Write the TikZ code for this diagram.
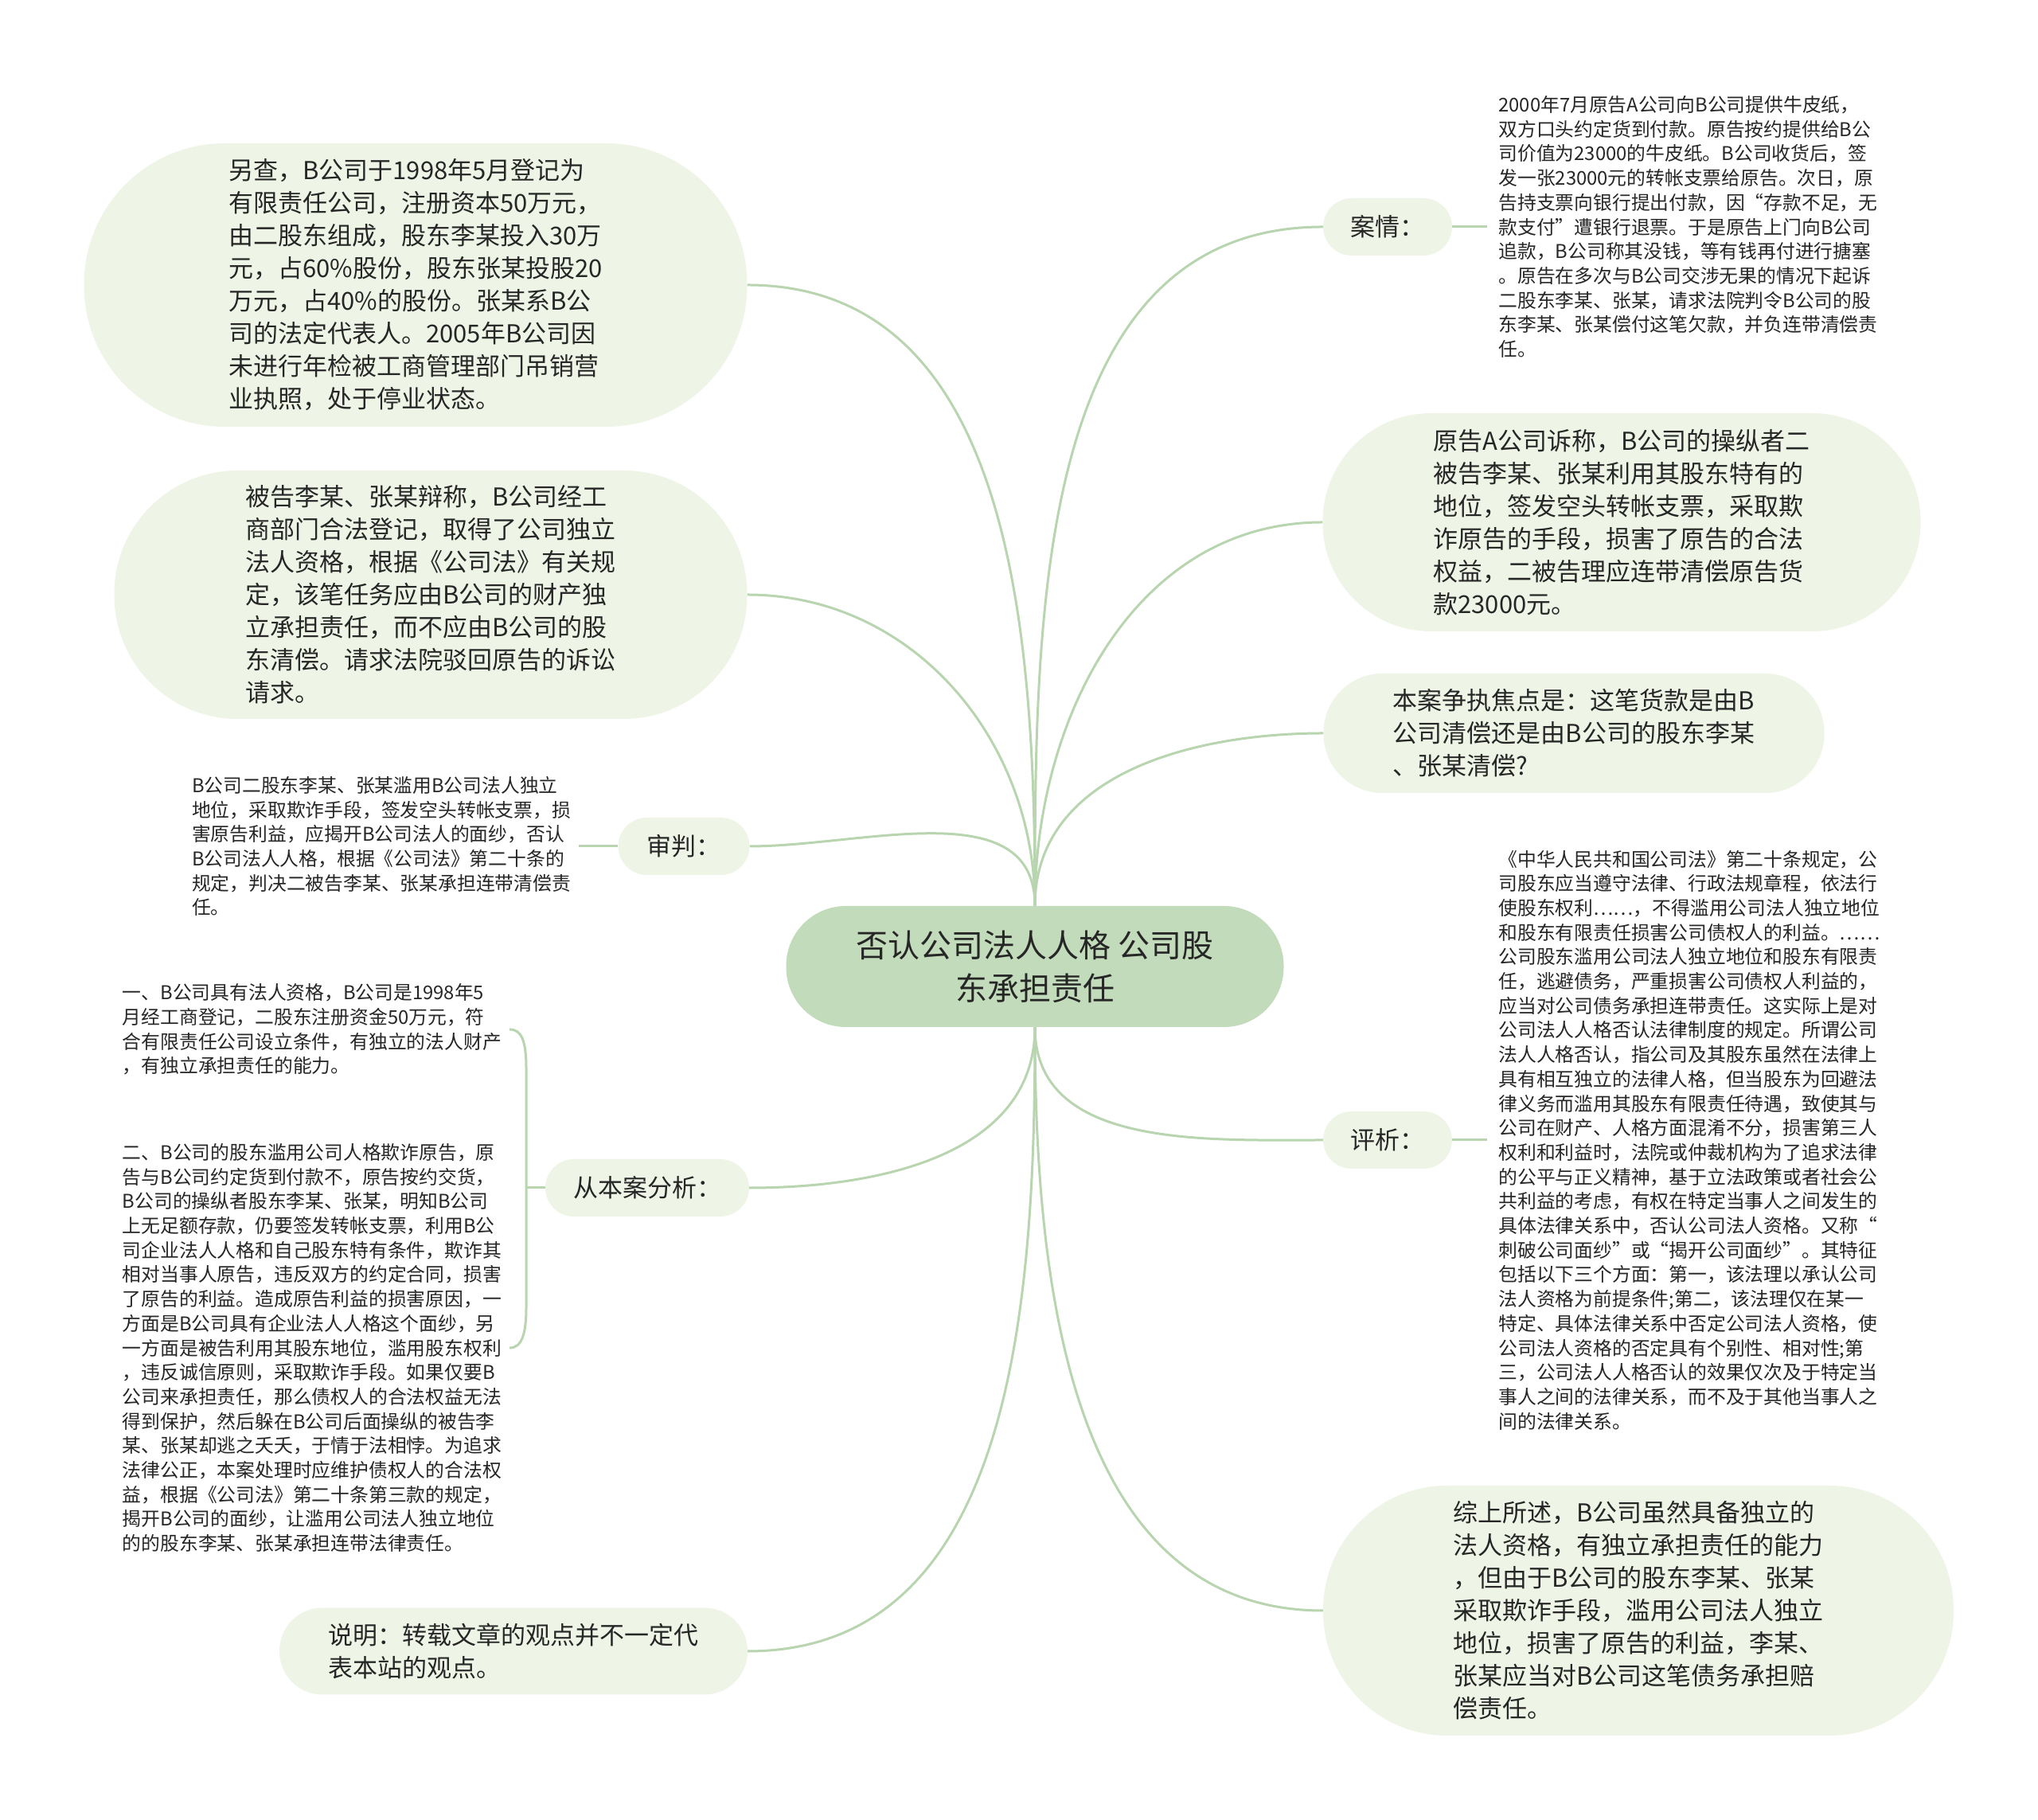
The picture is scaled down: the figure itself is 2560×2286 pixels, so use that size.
\documentclass[tikz,border=0pt]{standalone}
\usepackage{fontspec}
\setmainfont{Noto Sans CJK SC}
\usetikzlibrary{positioning,backgrounds}
\definecolor{RT}{HTML}{C2DBBA}
\definecolor{LF}{HTML}{EFF5E6}
\definecolor{LN}{HTML}{B8D5B0}
\definecolor{TX}{HTML}{262626}
\tikzset{
  link/.style={draw=LN, line width=3pt},
  rootbox/.style={fill=RT, text=TX, align=center, inner sep=0pt,
    font=\fontsize{40}{54}\selectfont},
  bubble/.style={fill=LF, text=TX, align=left, inner sep=0pt,
    font=\fontsize{31}{41}\selectfont},
  tag/.style={fill=LF, text=TX, inner sep=0pt, minimum height=72pt,
    rounded corners=36pt, font=\fontsize{31}{41}\selectfont},
  smalltext/.style={text=TX, align=left, inner sep=0pt, inner xsep=10pt,
    font=\fontsize{23.8}{30.7}\selectfont}
}

\begin{document}
\begin{tikzpicture}[x=1pt, y=1pt]
    \useasboundingbox (0,0) rectangle (2560,2286);

    % centre
    \node[rootbox, minimum width=625pt, minimum height=152pt,
          rounded corners=75pt] (root) at (1300,1072)
      {否认公司法人人格 公司股\\东承担责任};

    % right side
    \node[tag, minimum width=162pt] (case) at (1743,2001) {案情：};
    \node[smalltext, inner xsep=14pt, right=44pt of case] (casetxt) {
      2000年7月原告A公司向B公司提供牛皮纸，\\
      双方口头约定货到付款。原告按约提供给B公\\
      司价值为23000的牛皮纸。B公司收货后，签\\
      发一张23000元的转帐支票给原告。次日，原\\
      告持支票向银行提出付款，因“存款不足，无\\
      款支付”遭银行退票。于是原告上门向B公司\\
      追款，B公司称其没钱，等有钱再付进行搪塞\\
      。原告在多次与B公司交涉无果的情况下起诉\\
      二股东李某、张某，请求法院判令B公司的股\\
      东李某、张某偿付这笔欠款，并负连带清偿责\\
      任。};
    \node[bubble, minimum width=751pt, minimum height=274pt,
          rounded corners=136pt] (claim) at (2037,1630) {
      原告A公司诉称，B公司的操纵者二\\
      被告李某、张某利用其股东特有的\\
      地位，签发空头转帐支票，采取欺\\
      诈原告的手段，损害了原告的合法\\
      权益，二被告理应连带清偿原告货\\
      款23000元。};
    \node[bubble, minimum width=629pt, minimum height=150pt,
          rounded corners=74pt] (focus) at (1977,1365) {
      本案争执焦点是：这笔货款是由B\\
      公司清偿还是由B公司的股东李某\\
      、张某清偿?};
    \node[tag, minimum width=162pt] (review) at (1743,854) {评析：};
    \node[smalltext, inner xsep=14pt, right=44pt of review] (reviewtxt) {
      《中华人民共和国公司法》第二十条规定，公\\
      司股东应当遵守法律、行政法规章程，依法行\\
      使股东权利……，不得滥用公司法人独立地位\\
      和股东有限责任损害公司债权人的利益。……\\
      公司股东滥用公司法人独立地位和股东有限责\\
      任，逃避债务，严重损害公司债权人利益的，\\
      应当对公司债务承担连带责任。这实际上是对\\
      公司法人人格否认法律制度的规定。所谓公司\\
      法人人格否认，指公司及其股东虽然在法律上\\
      具有相互独立的法律人格，但当股东为回避法\\
      律义务而滥用其股东有限责任待遇，致使其与\\
      公司在财产、人格方面混淆不分，损害第三人\\
      权利和利益时，法院或仲裁机构为了追求法律\\
      的公平与正义精神，基于立法政策或者社会公\\
      共利益的考虑，有权在特定当事人之间发生的\\
      具体法律关系中，否认公司法人资格。又称“\\
      刺破公司面纱”或“揭开公司面纱”。其特征\\
      包括以下三个方面：第一，该法理以承认公司\\
      法人资格为前提条件;第二，该法理仅在某一\\
      特定、具体法律关系中否定公司法人资格，使\\
      公司法人资格的否定具有个别性、相对性;第\\
      三，公司法人人格否认的效果仅次及于特定当\\
      事人之间的法律关系，而不及于其他当事人之\\
      间的法律关系。};
    \node[bubble, minimum width=792pt, minimum height=314pt,
          rounded corners=156pt] (summary) at (2058,263) {
      综上所述，B公司虽然具备独立的\\
      法人资格，有独立承担责任的能力\\
      ，但由于B公司的股东李某、张某\\
      采取欺诈手段，滥用公司法人独立\\
      地位，损害了原告的利益，李某、\\
      张某应当对B公司这笔债务承担赔\\
      偿责任。};

    % left side
    \node[bubble, minimum width=833pt, minimum height=356pt,
          rounded corners=177pt] (extra) at (522,1928) {
      另查，B公司于1998年5月登记为\\
      有限责任公司，注册资本50万元，\\
      由二股东组成，股东李某投入30万\\
      元，占60\%股份，股东张某投股20\\
      万元，占40\%的股份。张某系B公\\
      司的法定代表人。2005年B公司因\\
      未进行年检被工商管理部门吊销营\\
      业执照，处于停业状态。};
    \node[bubble, minimum width=795pt, minimum height=312pt,
          rounded corners=155pt] (defense) at (541,1539) {
      被告李某、张某辩称，B公司经工\\
      商部门合法登记，取得了公司独立\\
      法人资格，根据《公司法》有关规\\
      定，该笔任务应由B公司的财产独\\
      立承担责任，而不应由B公司的股\\
      东清偿。请求法院驳回原告的诉讼\\
      请求。};
    \node[tag, minimum width=165pt] (verdict) at (859,1223) {审判：};
    \node[smalltext, left=49pt of verdict] (verdicttxt) {
      B公司二股东李某、张某滥用B公司法人独立\\
      地位，采取欺诈手段，签发空头转帐支票，损\\
      害原告利益，应揭开B公司法人的面纱，否认\\
      B公司法人人格，根据《公司法》第二十条的\\
      规定，判决二被告李某、张某承担连带清偿责\\
      任。};
    \node[tag, minimum width=256pt] (analysis) at (813,794) {从本案分析：};
    \coordinate (fork) at (661,794);
    \node[smalltext, anchor=east] (parta) at (640,993) {
      一、B公司具有法人资格，B公司是1998年5\\
      月经工商登记，二股东注册资金50万元，符\\
      合有限责任公司设立条件，有独立的法人财产\\
      ，有独立承担责任的能力。};
    \node[smalltext, anchor=east] (partb) at (640,593) {
      二、B公司的股东滥用公司人格欺诈原告，原\\
      告与B公司约定货到付款不，原告按约交货，\\
      B公司的操纵者股东李某、张某，明知B公司\\
      上无足额存款，仍要签发转帐支票，利用B公\\
      司企业法人人格和自己股东特有条件，欺诈其\\
      相对当事人原告，违反双方的约定合同，损害\\
      了原告的利益。造成原告利益的损害原因，一\\
      方面是B公司具有企业法人人格这个面纱，另\\
      一方面是被告利用其股东地位，滥用股东权利\\
      ，违反诚信原则，采取欺诈手段。如果仅要B\\
      公司来承担责任，那么债权人的合法权益无法\\
      得到保护，然后躲在B公司后面操纵的被告李\\
      某、张某却逃之夭夭，于情于法相悖。为追求\\
      法律公正，本案处理时应维护债权人的合法权\\
      益，根据《公司法》第二十条第三款的规定，\\
      揭开B公司的面纱，让滥用公司法人独立地位\\
      的的股东李某、张某承担连带法律责任。};
    \node[bubble, minimum width=588pt, minimum height=109pt,
          rounded corners=54pt] (notice) at (645,212) {
      说明：转载文章的观点并不一定代\\
      表本站的观点。};

    \begin{scope}[on background layer]
      \fill[white] (0,0) rectangle (2560,2286);
      \draw[link] (root.north) to[out=90,in=180] (case.west);
      \draw[link] (root.north) to[out=90,in=180] (claim.west);
      \draw[link] (root.north) to[out=90,in=180] (focus.west);
      \draw[link] (root.south) to[out=-90,in=180] (review.west);
      \draw[link] (root.south) to[out=-90,in=180] (summary.west);
      \draw[link] (root.north) to[out=90,in=0] (extra.east);
      \draw[link] (root.north) to[out=90,in=0] (defense.east);
      \draw[link] (root.north) to[out=90,in=0] (verdict.east);
      \draw[link] (root.south) to[out=-90,in=0] (analysis.east);
      \draw[link] (root.south) to[out=-90,in=0] (notice.east);
      \draw[link] (case.east) -- (casetxt.west);
      \draw[link] (review.east) -- (reviewtxt.west);
      \draw[link] (verdict.west) -- (verdicttxt.east);
      \draw[link] (analysis.west) -- (fork);
      \draw[link] (fork) -- ++(0,150) .. controls +(0,35) and +(15,0) .. (parta.east);
      \draw[link] (fork) -- ++(0,-150) .. controls +(0,-35) and +(15,0) .. (partb.east);
    \end{scope}
  \end{tikzpicture}
\end{document}
